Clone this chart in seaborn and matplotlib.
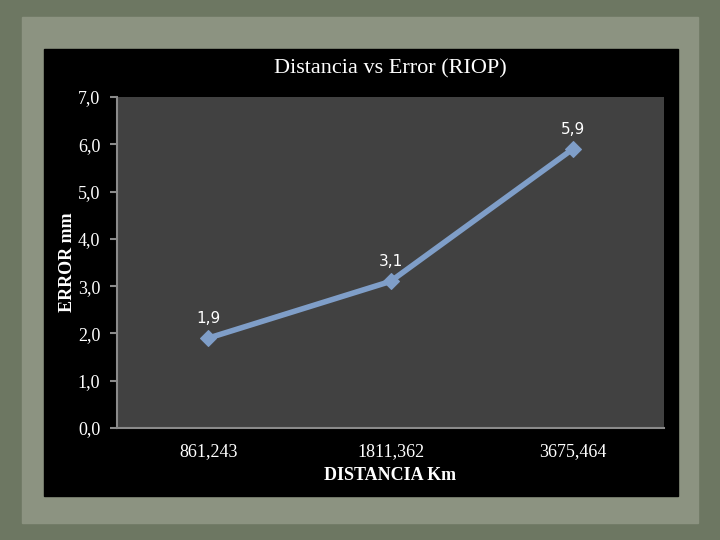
import matplotlib
matplotlib.use("Agg")
import matplotlib.pyplot as plt
from matplotlib.patches import Rectangle
import seaborn as sns
import pandas as pd

# data
distancias = ["861,243", "1811,362", "3675,464"]
errores = [1.9, 3.1, 5.9]
y_ticks = [0, 1, 2, 3, 4, 5, 6, 7]

sns.set_theme(style="dark")
plt.rcParams['font.family'] = ['Liberation Serif', 'DejaVu Serif']

df = pd.DataFrame({"Distancia": distancias, "Error": errores})

fig = plt.figure(figsize=(7.2, 5.4), dpi=100)
fig.patch.set_facecolor("#6d7762")

# paper and black chart area behind the axes
fig.patches.append(Rectangle((22 / 720, 1 - 523 / 540), 676 / 720, 506 / 540,
                             transform=fig.transFigure, color="#8c9381", zorder=-2))
fig.patches.append(Rectangle((44 / 720, 1 - 496 / 540), 634 / 720, 447 / 540,
                             transform=fig.transFigure, color="black", zorder=-1))

ax = fig.add_axes([117 / 720, 1 - 428 / 540, 547 / 720, 331 / 540])
ax.set_facecolor("#414141")

sns.lineplot(data=df, x="Distancia", y="Error", ax=ax, color="#7f9ec8",
             linewidth=4, marker="D", markersize=8, markeredgecolor="#7f9ec8",
             sort=False)

# data labels
for i, v in enumerate(errores):
    ax.annotate(f"{v:.1f}".replace(".", ","), (i, v), xytext=(0, 9),
                textcoords="offset points", ha="center", va="bottom",
                color="white", fontsize=11, family=["DejaVu Sans"])

ax.set_xlim(-0.5, 2.5)
ax.set_ylim(0, 7)
ax.set_yticks(y_ticks)
ax.set_yticklabels([f"{t:.1f}".replace(".", ",") for t in y_ticks])
ax.grid(False)

for side in ["top", "right"]:
    ax.spines[side].set_visible(False)
for side in ["left", "bottom"]:
    ax.spines[side].set_visible(True)
    ax.spines[side].set_color("#8a8a8a")
    ax.spines[side].set_linewidth(1.5)

ax.tick_params(axis="y", left=True, length=5, width=1.5, color="#8a8a8a",
               labelcolor="white", labelsize=13, pad=7)
ax.tick_params(axis="x", bottom=False, labelcolor="white", labelsize=13, pad=5)

ax.set_xlabel("DISTANCIA Km", color="white", fontsize=13, fontweight="bold")
ax.xaxis.set_label_coords(0.5, -0.145)
ax.xaxis.label.set_va("center")
ax.set_ylabel("ERROR mm", color="white", fontsize=13, fontweight="bold")
ax.yaxis.set_label_coords(-0.091, 0.5)
ax.yaxis.label.set_va("center")
ax.set_title("Distancia vs Error (RIOP)", color="white", fontsize=16, pad=17)

fig.savefig("out.png", dpi=100, facecolor=fig.get_facecolor())
